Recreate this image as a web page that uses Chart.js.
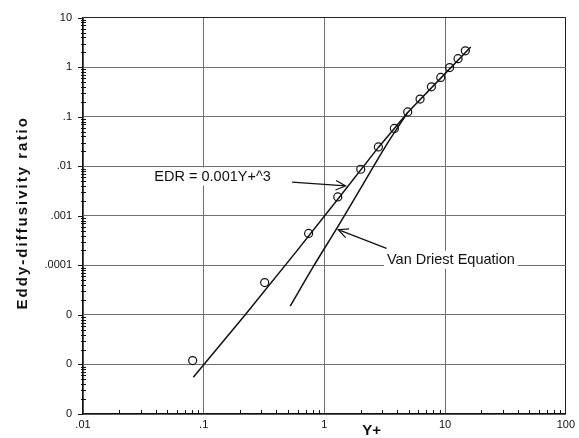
<!DOCTYPE html>
<html>
<head>
<meta charset="utf-8">
<script src="https://cdn.jsdelivr.net/npm/chart.js@4.4.1/dist/chart.umd.min.js"></script>
<style>
  html, body { margin: 0; padding: 0; background: #fff; }
  #wrap { width: 579px; height: 438px; }
</style>
</head>
<body>
<div id="wrap"><canvas id="chart" width="579" height="438"></canvas></div>
<script>
// axis ticks
const xTickValues = [0.01, 0.1, 1, 10, 100];
const xTickLabels = ['.01', '.1', '1', '10', '100'];
const yTickValues = [1e-7, 1e-6, 1e-5, 1e-4, 1e-3, 1e-2, 1e-1, 1, 10];
const yTickLabels = ['0', '0', '0', '.0001', '.001', '.01', '.1', '1', '10'];

// measured points (open circles)
const measuredYplus = [0.081, 0.32, 0.74, 1.29, 2.0, 2.8, 3.8, 4.9, 6.2, 7.7, 9.2, 10.9, 12.8, 14.7];
const measuredEdr = [1.2e-6, 4.5e-5, 4.4e-4, 2.4e-3, 8.7e-3, 0.0245, 0.058, 0.125, 0.227, 0.40, 0.62, 0.98, 1.48, 2.14];

// EDR = 0.001Y+^3 curve, as drawn
const edrYplus = [0.082, 0.22, 0.58, 1.3, 2.8, 4.9, 9.2, 16.3];
const edrValues = [5.5e-7, 1.0e-5, 1.85e-4, 2.2e-3, 0.024, 0.122, 0.6, 2.55];

// Van Driest equation curve, as drawn
const vanDriestYplus = [0.52, 0.8, 1.3, 2.0, 3.2, 4.9];
const vanDriestValues = [1.5e-5, 9.0e-5, 6.2e-4, 3.6e-3, 0.025, 0.122];

const toPoints = (xs, ys) => xs.map((x, i) => ({ x: x, y: ys[i] }));

const FONT = 'Arial, "Liberation Sans", Helvetica, sans-serif';

function arrow(ctx, x1, y1, x2, y2) {
    const ang = Math.atan2(y2 - y1, x2 - x1);
    const len = 11;
    ctx.beginPath();
    ctx.moveTo(x1, y1);
    ctx.lineTo(x2, y2);
    ctx.moveTo(x2 - len * Math.cos(ang - 0.45), y2 - len * Math.sin(ang - 0.45));
    ctx.lineTo(x2, y2);
    ctx.lineTo(x2 - len * Math.cos(ang + 0.45), y2 - len * Math.sin(ang + 0.45));
    ctx.stroke();
}

function boxedLabel(ctx, text, x, y) {
    ctx.font = '14.5px ' + FONT;
    const w = ctx.measureText(text).width;
    ctx.fillStyle = '#fff';
    ctx.fillRect(x - 3, y - 9, w + 6, 18);
    ctx.fillStyle = '#111';
    ctx.textAlign = 'left';
    ctx.textBaseline = 'middle';
    ctx.fillText(text, x, y);
}

const decorations = {
    id: 'decorations',
    beforeDatasetsDraw(chart) {
        const ctx = chart.ctx;
        const xs = chart.scales.x, ys = chart.scales.y;
        const area = chart.chartArea;
        ctx.save();
        ctx.strokeStyle = '#111';
        ctx.lineWidth = 1;
        ctx.beginPath();
        // minor ticks on bottom axis
        for (let d = 0.01; d < 100; d *= 10) {
            for (let k = 2; k <= 9; k++) {
                const px = Math.round(xs.getPixelForValue(k * d)) + 0.5;
                ctx.moveTo(px, area.bottom);
                ctx.lineTo(px, area.bottom - 4);
            }
        }
        // minor ticks on left axis
        for (let d = 1e-7; d < 10; d *= 10) {
            for (let k = 2; k <= 9; k++) {
                const py = Math.round(ys.getPixelForValue(k * d)) + 0.5;
                ctx.moveTo(area.left - 2, py);
                ctx.lineTo(area.left + 3, py);
            }
        }
        yTickValues.forEach(v => {
            const py = Math.round(ys.getPixelForValue(v)) + 0.5;
            ctx.moveTo(area.left - 5, py);
            ctx.lineTo(area.left, py);
        });
        ctx.stroke();

        // labels with white background over the grid
        boxedLabel(ctx, 'EDR = 0.001Y+^3', xs.getPixelForValue(0.039), ys.getPixelForValue(0.0062));
        boxedLabel(ctx, 'Van Driest Equation', xs.getPixelForValue(3.3), ys.getPixelForValue(1.3e-4));

        // arrows
        ctx.lineWidth = 1.2;
        arrow(ctx, xs.getPixelForValue(0.54), ys.getPixelForValue(0.0048),
                   xs.getPixelForValue(1.5), ys.getPixelForValue(0.0040));
        arrow(ctx, xs.getPixelForValue(3.27), ys.getPixelForValue(2.2e-4),
                   xs.getPixelForValue(1.3), ys.getPixelForValue(5.25e-4));

        // axis titles
        ctx.fillStyle = '#111';
        ctx.font = 'bold 15px ' + FONT;
        ctx.textAlign = 'center';
        ctx.textBaseline = 'alphabetic';
        ctx.fillText('Y+', xs.getPixelForValue(2.46), area.bottom + 21);

        ctx.translate(27, (area.top + area.bottom) / 2 - 3);
        ctx.rotate(-Math.PI / 2);
        ctx.letterSpacing = '2px';
        ctx.fillText('Eddy-diffusivity ratio', 0, 0);
        ctx.restore();
    }
};

const ctx = document.getElementById('chart').getContext('2d');

new Chart(ctx, {
    type: 'scatter',
    data: {
        datasets: [{
            label: 'Measured',
            data: toPoints(measuredYplus, measuredEdr),
            showLine: false,
            pointStyle: 'circle',
            pointRadius: 4,
            pointBorderWidth: 1.2,
            pointBorderColor: '#111',
            pointBackgroundColor: 'rgba(0,0,0,0)',
            order: 0
        }, {
            label: 'EDR = 0.001Y+^3',
            data: toPoints(edrYplus, edrValues),
            showLine: true,
            borderColor: '#111',
            borderWidth: 1.5,
            pointRadius: 0,
            tension: 0,
            order: 1
        }, {
            label: 'Van Driest Equation',
            data: toPoints(vanDriestYplus, vanDriestValues),
            showLine: true,
            borderColor: '#111',
            borderWidth: 1.5,
            pointRadius: 0,
            cubicInterpolationMode: 'monotone',
            order: 2
        }]
    },
    options: {
        responsive: false,
        animation: false,
        layout: { padding: { top: 12, right: 11, left: 0, bottom: 0 } },
        plugins: {
            legend: { display: false },
            tooltip: { enabled: false }
        },
        scales: {
            x: {
                type: 'logarithmic',
                min: 0.01,
                max: 100,
                afterBuildTicks: scale => { scale.ticks = xTickValues.map(v => ({ value: v })); },
                afterFit: scale => { scale.height = 24; },
                ticks: {
                    autoSkip: false,
                    maxRotation: 0,
                    padding: 4,
                    color: '#111',
                    font: { family: FONT, size: 11 },
                    callback: (value, index) => xTickLabels[index]
                },
                grid: {
                    drawTicks: false,
                    color: c => c.index === xTickValues.length - 1 ? '#222' : '#707070',
                    lineWidth: 1
                },
                border: { display: true, color: '#111', width: 1.3 }
            },
            y: {
                type: 'logarithmic',
                min: 1e-7,
                max: 10,
                afterBuildTicks: scale => { scale.ticks = yTickValues.map(v => ({ value: v })); },
                afterFit: scale => { scale.width = 83; },
                ticks: {
                    autoSkip: false,
                    padding: 11,
                    color: '#111',
                    font: { family: FONT, size: 11 },
                    callback: (value, index) => yTickLabels[index]
                },
                grid: {
                    drawTicks: false,
                    color: c => c.index === yTickValues.length - 1 ? '#222' : '#707070',
                    lineWidth: 1
                },
                border: { display: true, color: '#111', width: 1.3 }
            }
        }
    },
    plugins: [decorations]
});
</script>
</body>
</html>
